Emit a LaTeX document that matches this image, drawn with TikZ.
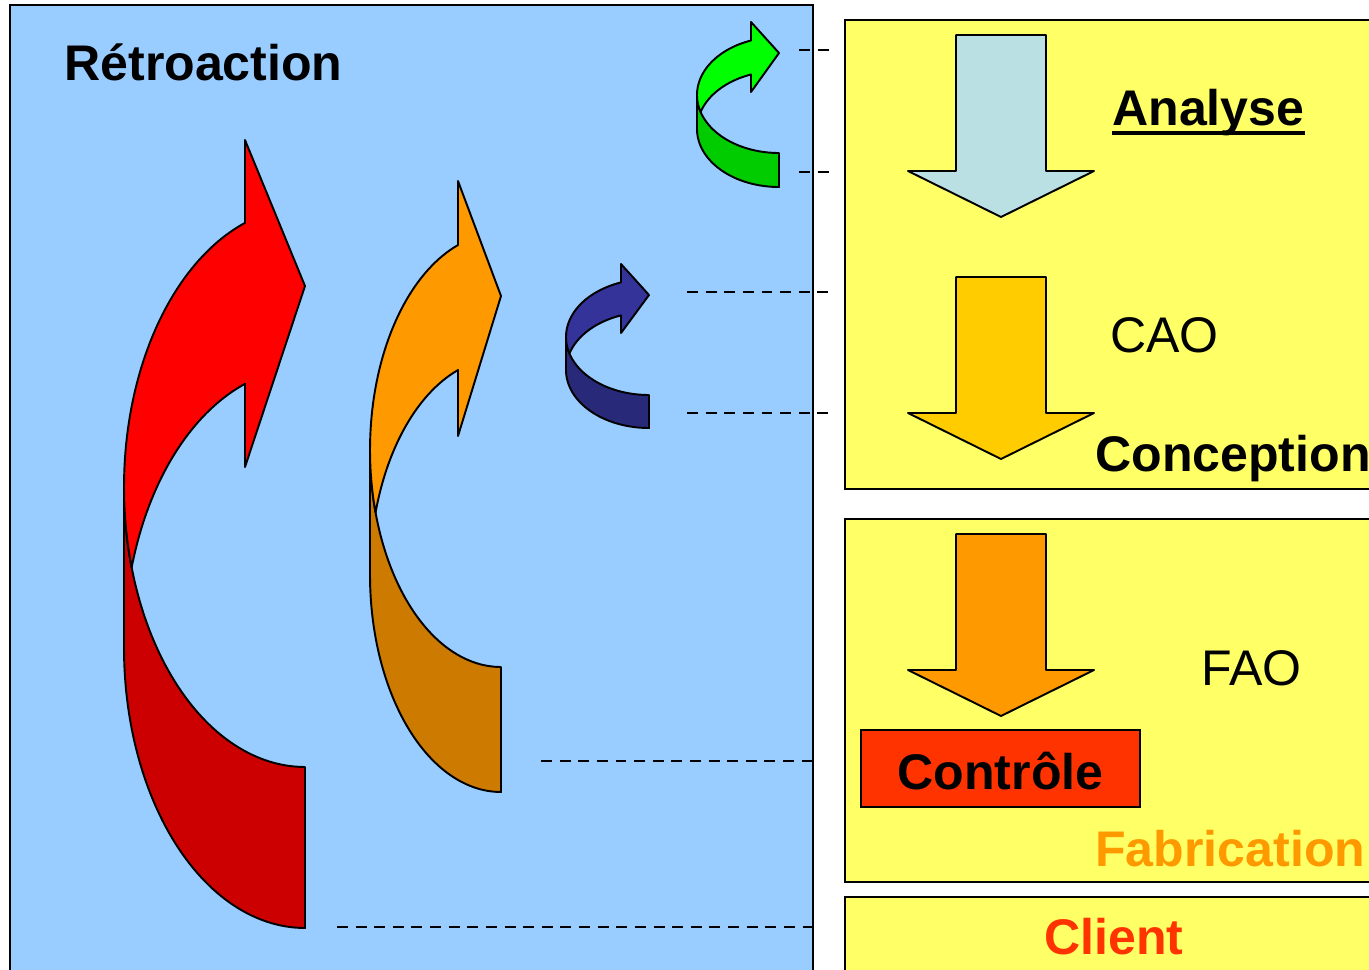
\documentclass[tikz,border=0pt]{standalone}
\usepackage{fontspec}
\setmainfont{Liberation Sans}

\definecolor{panelblue}{HTML}{99CCFF}
\definecolor{boxyellow}{HTML}{FFFF66}
\definecolor{analysecol}{HTML}{BBE0E3}
\definecolor{caocol}{HTML}{FFCC00}
\definecolor{faocol}{HTML}{FF9900}
\definecolor{ctrlcol}{HTML}{FF3300}
\definecolor{redfront}{HTML}{FF0000}
\definecolor{redback}{HTML}{CC0000}
\definecolor{orafront}{HTML}{FF9900}
\definecolor{oraback}{HTML}{CC7A00}
\definecolor{bluefront}{HTML}{333399}
\definecolor{blueback}{HTML}{29297A}
\definecolor{grnfront}{HTML}{00FF00}
\definecolor{grnback}{HTML}{00CC00}

% Curved "feedback" arrow (all values in pixel units, y pointing down)
% #1 left x, #2 right x, #3 upper ellipse centre y, #4 y radius,
% #5 band thickness, #6 head base x, #7 head top y, #8 tip y, #9 head bottom y
\newcommand\curvarrow[9]{%
  \pgfmathsetmacro\crx{#2-#1}%
  \pgfmathsetmacro\cthb{180+acos((#2-#6)/\crx)}%
  \pgfmathsetmacro\cal{asin(#5/(2*#4))}%
  \pgfmathsetmacro\cthi{180+\cal}%
  \pgfmathsetmacro\ctle{180-\cal}%
  \pgfmathsetmacro\cyb{#3+#5}%
  % back part of the band
  \path[curvback] (#1,#3) -- (#1,\cyb)
    -- plot[domain=180:90,samples=60] ({#2+\crx*cos(\x)},{\cyb+#4*sin(\x)})
    -- plot[domain=90:180,samples=60] ({#2+\crx*cos(\x)},{#3+#4*sin(\x)})
    -- cycle;
  % front part with the head
  \path[curvfront] (#1,#3)
    -- plot[domain=180:\cthb,samples=40] ({#2+\crx*cos(\x)},{#3+#4*sin(\x)})
    -- (#6,#7) -- (#2,#8) -- (#6,#9)
    -- plot[domain=\cthb:\cthi,samples=40] ({#2+\crx*cos(\x)},{\cyb+#4*sin(\x)})
    -- plot[domain=\ctle:180,samples=12] ({#2+\crx*cos(\x)},{#3+#4*sin(\x)})
    -- cycle;
}

% Straight downward block arrow: #1 top y, #2 fill colour
\newcommand\downblock[2]{%
  \path[outl, fill=#2] (956,#1) -- (1046,#1) -- (1046,#1+136) -- (1094,#1+136)
    -- (1001,#1+182) -- (908,#1+136) -- (956,#1+136) -- cycle;
}

\tikzset{
  outl/.style={draw=black, line width=1.1pt, line join=round},
  panel/.style={draw=black, line width=1.4pt},
  stagebox/.style={draw=black, line width=1.2pt, fill=boxyellow},
  linkdash/.style={draw=black, line width=1.6pt, dash pattern=on 6.2pt off 4.4pt},
  lbl/.style={inner sep=0pt, anchor=base west, font=\fontsize{28.5}{34}\selectfont},
  blbl/.style={lbl, font=\fontsize{28.5}{34}\selectfont\bfseries},
}

\begin{document}
\begin{tikzpicture}[x=0.02cm, y=-0.02cm]
  \useasboundingbox (0,0) rectangle (1369,970);
  \clip (0,0) rectangle (1369,970);
  \fill[white] (0,0) rectangle (1369,970);

  % feedback panel
  \path[panel, fill=panelblue] (10,5) rectangle (813,1000);

  % feedback arrows
  \begin{scope}[curvfront/.style={outl, fill=redfront}, curvback/.style={outl, fill=redback}]
    \curvarrow{124}{305}{487}{280}{161}{245}{140}{286}{467}
  \end{scope}
  \begin{scope}[curvfront/.style={outl, fill=orafront}, curvback/.style={outl, fill=oraback}]
    \curvarrow{370}{501}{450}{217}{125}{458}{181}{296}{436}
  \end{scope}
  \begin{scope}[curvfront/.style={outl, fill=bluefront}, curvback/.style={outl, fill=blueback}]
    \curvarrow{566}{649}{337}{58}{33}{621}{264}{295}{333}
  \end{scope}
  \begin{scope}[curvfront/.style={outl, fill=grnfront}, curvback/.style={outl, fill=grnback}]
    \curvarrow{697}{779}{95}{58}{34}{751}{22}{53}{92}
  \end{scope}

  % stage boxes
  \path[stagebox] (845,20) rectangle (1400,489);
  \path[stagebox] (845,519) rectangle (1400,882);
  \path[stagebox] (845,897) rectangle (1400,1000);

  % guide lines from the arrows to the stages
  \coordinate (g1a) at (799,50);  \coordinate (g1b) at (829,50);
  \coordinate (g2a) at (799,172); \coordinate (g2b) at (829,172);
  \coordinate (b1a) at (687,292); \coordinate (b1b) at (829,292);
  \coordinate (b2a) at (687,413); \coordinate (b2b) at (829,413);
  \coordinate (o1a) at (541,761); \coordinate (o1b) at (813,761);
  \coordinate (r1a) at (337,927); \coordinate (r1b) at (813,927);
  \draw[linkdash] (g1a) -- (g1b);
  \draw[linkdash] (g2a) -- (g2b);
  \draw[linkdash] (b1a) -- (b1b);
  \draw[linkdash] (b2a) -- (b2b);
  \draw[linkdash] (o1a) -- (o1b);
  \draw[linkdash] (r1a) -- (r1b);

  % stage arrows
  \downblock{35}{analysecol}
  \downblock{277}{caocol}
  \downblock{534}{faocol}

  % labels
  \node[blbl] (retro) at (64,80) {Rétroaction};
  \node[blbl] (analyse) at (1112,125) {Analyse};
  \draw[line width=2pt] ([yshift=-4.6pt]analyse.base west) -- ([yshift=-4.6pt]analyse.base east);
  \node[lbl] (cao) at (1110,352) {CAO};
  \node[blbl] (conception) at (1095,471) {Conception};
  \node[lbl] (fao) at (1201,685) {FAO};
  \node[draw=black, line width=1.2pt, fill=ctrlcol, minimum width=5.58cm, minimum height=1.54cm,
        inner sep=0pt, text height=23.4pt, text depth=0pt,
        font=\fontsize{28.5}{34}\selectfont\bfseries] (controle) at (1000.5,768.5) {Contrôle};
  \node[blbl, text=faocol] (fabrication) at (1095,866) {Fabrication};
  \node[blbl, text=ctrlcol] (client) at (1044,954) {Client};
\end{tikzpicture}
\end{document}
